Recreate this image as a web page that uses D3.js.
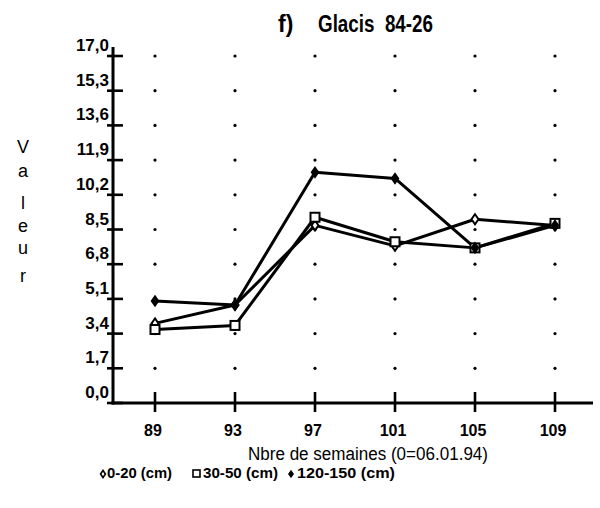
<!DOCTYPE html>
<html>
<head>
<meta charset="utf-8">
<script src="https://cdn.jsdelivr.net/npm/d3@7"></script>
<style>
  html, body { margin: 0; padding: 0; background: #fff; }
  svg { display: block; }
  text { fill: #000; }
</style>
</head>
<body>
<svg id="chart" width="600" height="508"></svg>
<script>
// Weeks since 06.01.94 and measured values per soil depth
const weeks = [89, 93, 97, 101, 105, 109];
const depth0_20 = [3.9, 4.8, 8.7, 7.7, 9.0, 8.7];
const depth30_50 = [3.6, 3.8, 9.1, 7.9, 7.6, 8.8];
const depth120_150 = [5.0, 4.8, 11.3, 11.0, 7.6, 8.7];
const yTicks = [0, 1.7, 3.4, 5.1, 6.8, 8.5, 10.2, 11.9, 13.6, 15.3, 17.0];
const seriesNames = ["0-20 (cm)", "30-50 (cm)", "120-150 (cm)"];
const yTitle = ["V", "a", "l", "e", "u", "r"];

const narrow = "'Liberation Sans Narrow', 'Arial Narrow', 'Liberation Sans', sans-serif";
const regular = "'Liberation Sans', Arial, sans-serif";

const svg = d3.select("#chart");
const x = d3.scaleLinear().domain([89, 109]).range([155, 555]);
const y = d3.scaleLinear().domain([0, 17]).range([403, 56]);
const fmt = v => v.toFixed(1).replace(".", ",");

// Dotted grid at every tick crossing
const grid = svg.append("g");
weeks.forEach(w => {
  yTicks.filter(t => t > 0).forEach(t => {
    grid.append("circle").attr("cx", x(w)).attr("cy", y(t)).attr("r", 1.6).attr("fill", "#000");
  });
});

// Axes
const axes = svg.append("g").attr("stroke", "#000").attr("fill", "none");
axes.append("line").attr("x1", 113).attr("x2", 113).attr("y1", 47).attr("y2", 404.5).attr("stroke-width", 3);
axes.append("line").attr("x1", 111.5).attr("x2", 593).attr("y1", 403).attr("y2", 403).attr("stroke-width", 3);
yTicks.forEach(t => {
  axes.append("line").attr("x1", 107).attr("x2", 123).attr("y1", y(t)).attr("y2", y(t)).attr("stroke-width", 2.6);
});
weeks.forEach(w => {
  axes.append("line").attr("x1", x(w)).attr("x2", x(w)).attr("y1", 392).attr("y2", 412).attr("stroke-width", 2.6);
});

// Tick labels
svg.append("g").selectAll("text").data(yTicks).join("text")
  .attr("x", 109).attr("y", d => y(d) - 5)
  .attr("text-anchor", "end")
  .attr("font-family", narrow).attr("font-weight", "bold").attr("font-size", 17)
  .text(fmt);
svg.append("g").selectAll("text").data(weeks).join("text")
  .attr("x", d => x(d) - 2).attr("y", 436)
  .attr("text-anchor", "middle")
  .attr("font-family", narrow).attr("font-weight", "bold").attr("font-size", 16)
  .text(d => d);

// Lines
const line = d3.line().x((d, i) => x(weeks[i])).y(d => y(d));
const series = [depth0_20, depth30_50, depth120_150];
const lg = svg.append("g").attr("fill", "none").attr("stroke", "#000").attr("stroke-width", 3).attr("stroke-linejoin", "round");
series.forEach(s => lg.append("path").attr("d", line(s)));

// Markers
const diamond = (cx, cy, r) => `M${cx},${cy - r}L${cx + r * 0.7},${cy}L${cx},${cy + r}L${cx - r * 0.7},${cy}Z`;
const mk = svg.append("g").attr("stroke", "#000");
depth0_20.forEach((v, i) => mk.append("path").attr("d", diamond(x(weeks[i]), y(v), 5)).attr("fill", "#fff").attr("stroke-width", 2));
depth30_50.forEach((v, i) => mk.append("rect").attr("x", x(weeks[i]) - 4.5).attr("y", y(v) - 4.5).attr("width", 9).attr("height", 9).attr("fill", "#fff").attr("stroke-width", 2));
depth120_150.forEach((v, i) => mk.append("path").attr("d", diamond(x(weeks[i]), y(v), 5)).attr("fill", "#000").attr("stroke-width", 1.5));

// Title
svg.append("text").attr("x", 278).attr("y", 32)
  .attr("font-family", narrow).attr("font-weight", "bold").attr("font-size", 23)
  .text("f)");
svg.append("text").attr("x", 318).attr("y", 32)
  .attr("font-family", narrow).attr("font-weight", "bold").attr("font-size", 23)
  .attr("textLength", 115).attr("lengthAdjust", "spacingAndGlyphs")
  .style("white-space", "pre")
  .text("Glacis  84-26");

// Axis titles
svg.append("text").attr("x", 248).attr("y", 460)
  .attr("font-family", regular).attr("font-size", 18)
  .attr("textLength", 240).attr("lengthAdjust", "spacingAndGlyphs")
  .text("Nbre de semaines (0=06.01.94)");
const yBase = [153, 177, 209, 232, 254, 282];
svg.append("g").selectAll("text").data(yTitle).join("text")
  .attr("x", 23).attr("y", (d, i) => yBase[i])
  .attr("text-anchor", "middle")
  .attr("font-family", regular).attr("font-size", 18)
  .text(d => d);

// Legend
const leg = svg.append("g");
const legY = 478;
leg.append("path").attr("d", diamond(103, legY - 4, 3.5)).attr("fill", "#fff").attr("stroke", "#000").attr("stroke-width", 1.6);
leg.append("rect").attr("x", 193).attr("y", legY - 8).attr("width", 7).attr("height", 7).attr("fill", "#fff").attr("stroke", "#000").attr("stroke-width", 1.6);
leg.append("path").attr("d", diamond(291, legY - 4, 3.5)).attr("fill", "#000").attr("stroke", "#000").attr("stroke-width", 1);
const legX = [107, 203, 297];
const legW = [65, 75, 98];
seriesNames.forEach((n, i) => {
  leg.append("text").attr("x", legX[i]).attr("y", legY)
    .attr("font-family", narrow).attr("font-weight", "bold").attr("font-size", 14)
    .attr("textLength", legW[i]).attr("lengthAdjust", "spacingAndGlyphs")
    .text(n);
});
</script>
</body>
</html>
